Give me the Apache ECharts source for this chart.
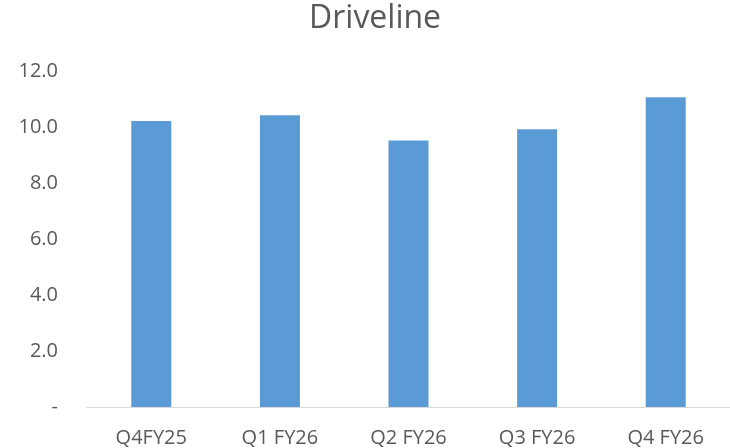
<!DOCTYPE html>
<html><head><meta charset="utf-8">
<script src="https://cdn.jsdelivr.net/npm/echarts@6/dist/echarts.min.js"></script>
<style>html,body{margin:0;padding:0;background:#fff}#c{width:730px;height:448px}</style>
</head><body><div id="c"></div>
<script>
const title = "Driveline";
const categories = ["Q4FY25", "Q1 FY26", "Q2 FY26", "Q3 FY26", "Q4 FY26"];
const values = [10.21, 10.42, 9.52, 9.92, 11.06];
const yTicks = [0, 2, 4, 6, 8, 10, 12];

const font = "'Open Sans', sans-serif";
const chart = echarts.init(document.getElementById('c'));
chart.setOption({
  animation: false,
  title: { text: title, left: 309, top: 3, padding: 0,
    textStyle: { fontFamily: font, fontSize: 32, fontWeight: 'normal', color: '#595959' } },
  grid: { left: 87, right: -1, top: 71, bottom: 41, containLabel: false },
  xAxis: { type: 'category', data: categories,
    axisLine: { lineStyle: { color: '#D9D9D9', width: 1 } },
    axisTick: { show: false },
    axisLabel: { color: '#595959', fontFamily: font, fontSize: 20, margin: 21 } },
  yAxis: { type: 'value', min: yTicks[0], max: yTicks[yTicks.length-1], interval: 2,
    splitLine: { show: false }, axisLine: { show: false }, axisTick: { show: false },
    axisLabel: { color: '#595959', fontFamily: font, fontSize: 20, margin: 29,
      formatter: v => v === 0 ? '-' : v.toFixed(1) } },
  series: [{ type: 'bar', data: values, barWidth: 40,
    itemStyle: { color: '#5B9BD5' } }]
});
</script></body></html>
